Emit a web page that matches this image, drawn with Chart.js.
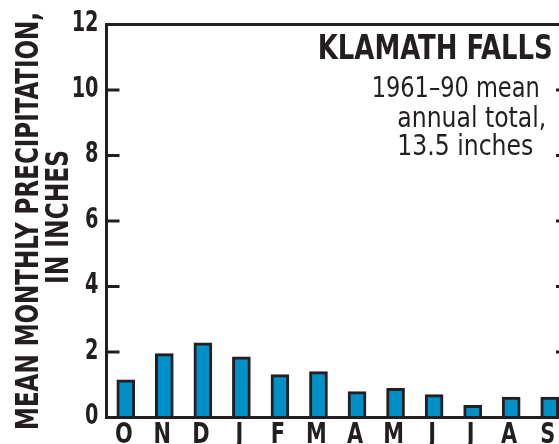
<!DOCTYPE html>
<html>
<head>
<meta charset="utf-8">
<title>Klamath Falls precipitation</title>
<script src="https://cdn.jsdelivr.net/npm/chart.js@4.4.1/dist/chart.umd.min.js"></script>
<style>
  html, body { margin: 0; padding: 0; background: #fff; }
  #wrap { width: 559px; height: 444px; overflow: hidden; }
</style>
</head>
<body>
<div id="wrap"><canvas id="precip-chart" width="575" height="460"></canvas></div>
<script>
//? Data
const months = ['O', 'N', 'D', 'J', 'F', 'M', 'A', 'M', 'J', 'J', 'A', 'S']
const precip = [1.15, 1.95, 2.28, 1.85, 1.31, 1.40, 0.79, 0.89, 0.70, 0.37, 0.62, 0.62]
const yTicks = [0, 2, 4, 6, 8, 10, 12]
const yTitle = ['MEAN MONTHLY PRECIPITATION,', 'IN INCHES']
const station = 'KLAMATH FALLS'
const note = ['1961\u201390 mean', 'annual total,', '13.5 inches']

const ink = '#231f20'
const barBlue = '#0090c8'
// no narrow face installed, so condensed text gets squeezed sideways
const narrow = '"DejaVu Sans Condensed", "DejaVu Sans", sans-serif'

// draw text squeezed to a given width (or by a fixed factor) around its anchor
function squeezeText(ctx, text, x, y, opts) {
    const w = ctx.measureText(text).width
    const k = opts.width ? opts.width / w : opts.factor
    ctx.save()
    ctx.translate(x, y)
    if (opts.rotate) ctx.rotate(opts.rotate)
    ctx.scale(k, 1)
    ctx.fillText(text, 0, 0)
    ctx.restore()
}

//? frame + inward ticks, drawn over the bars
const framePlugin = {
    id: 'frame',
    afterDatasetsDraw(chart) {
        const { ctx, chartArea: a } = chart
        const y = chart.scales.y
        ctx.save()
        ctx.strokeStyle = ink
        ctx.lineWidth = 3
        ctx.strokeRect(a.left, a.top, a.right - a.left, a.bottom - a.top)
        ctx.beginPath()
        yTicks.forEach(v => {
            if (v === yTicks[0] || v === yTicks[yTicks.length - 1]) return
            const py = y.getPixelForValue(v)
            ctx.moveTo(a.left, py)
            ctx.lineTo(a.left + 13, py)
            ctx.moveTo(a.right, py)
            ctx.lineTo(a.right - 13, py)
        })
        ctx.stroke()
        ctx.restore()
    }
}

//? axis labels, title, station name and note
const labelPlugin = {
    id: 'labels',
    afterDraw(chart) {
        const ctx = chart.ctx
        const { x, y } = chart.scales
        const a = chart.chartArea
        ctx.save()
        ctx.fillStyle = ink

        // y tick labels
        ctx.font = 'bold 29px ' + narrow
        ctx.textAlign = 'right'
        ctx.textBaseline = 'middle'
        yTicks.forEach(v => {
            squeezeText(ctx, String(v), a.left - 8, y.getPixelForValue(v) - 1, { factor: 0.74 })
        })

        // month labels
        ctx.textAlign = 'center'
        ctx.textBaseline = 'alphabetic'
        months.forEach((m, i) => {
            squeezeText(ctx, m, x.getPixelForTick(i) - 2, 443, { factor: 0.8 })
        })

        // y axis title, two lines
        ctx.font = 'bold 31.5px ' + narrow
        ctx.textBaseline = 'middle'
        const midY = (a.top + a.bottom) / 2
        squeezeText(ctx, yTitle[0], 30, midY, { width: 418, rotate: -Math.PI / 2 })
        squeezeText(ctx, yTitle[1], 59.7, midY - 4, { width: 134, rotate: -Math.PI / 2 })

        // station name
        ctx.textAlign = 'right'
        ctx.textBaseline = 'alphabetic'
        ctx.font = 'bold 33px ' + narrow
        squeezeText(ctx, station, 552.7, 59.3, { width: 235 })

        // annual total note
        ctx.textAlign = 'left'
        ctx.font = '29px ' + narrow
        squeezeText(ctx, note[0], 371.7, 96.7, { width: 168 })
        squeezeText(ctx, note[1], 397.3, 127.3, { width: 149 })
        squeezeText(ctx, note[2], 397.3, 155, { width: 136 })
        ctx.restore()
    }
}

const dataPrecip = {
    labels: months,
    datasets: [
        {
            label: 'Precipitation',
            data: precip,
            backgroundColor: barBlue,
            borderColor: ink,
            borderWidth: 3,
            barThickness: 18
        }
    ]
}

const configPrecip = {
    type: 'bar',
    data: dataPrecip,
    options: {
        responsive: false,
        animation: false,
        events: [],
        layout: { padding: { top: 24.5, right: 6, bottom: 0, left: 0 } },
        plugins: {
            legend: { display: false },
            tooltip: { enabled: false }
        },
        scales: {
            x: {
                offset: true,
                grid: { display: false, drawTicks: false },
                border: { display: false },
                ticks: { display: false, autoSkip: false },
                afterFit(scale) { scale.height = 42.5 }
            },
            y: {
                min: 0,
                max: 12,
                grid: { display: false, drawTicks: false },
                border: { display: false },
                ticks: { display: false, stepSize: 2 },
                afterFit(scale) { scale.width = 106.5 }
            }
        }
    },
    plugins: [framePlugin, labelPlugin]
}

const precipCanvas = document.getElementById('precip-chart')

const precipChart = new Chart(precipCanvas, configPrecip)
</script>
</body>
</html>
